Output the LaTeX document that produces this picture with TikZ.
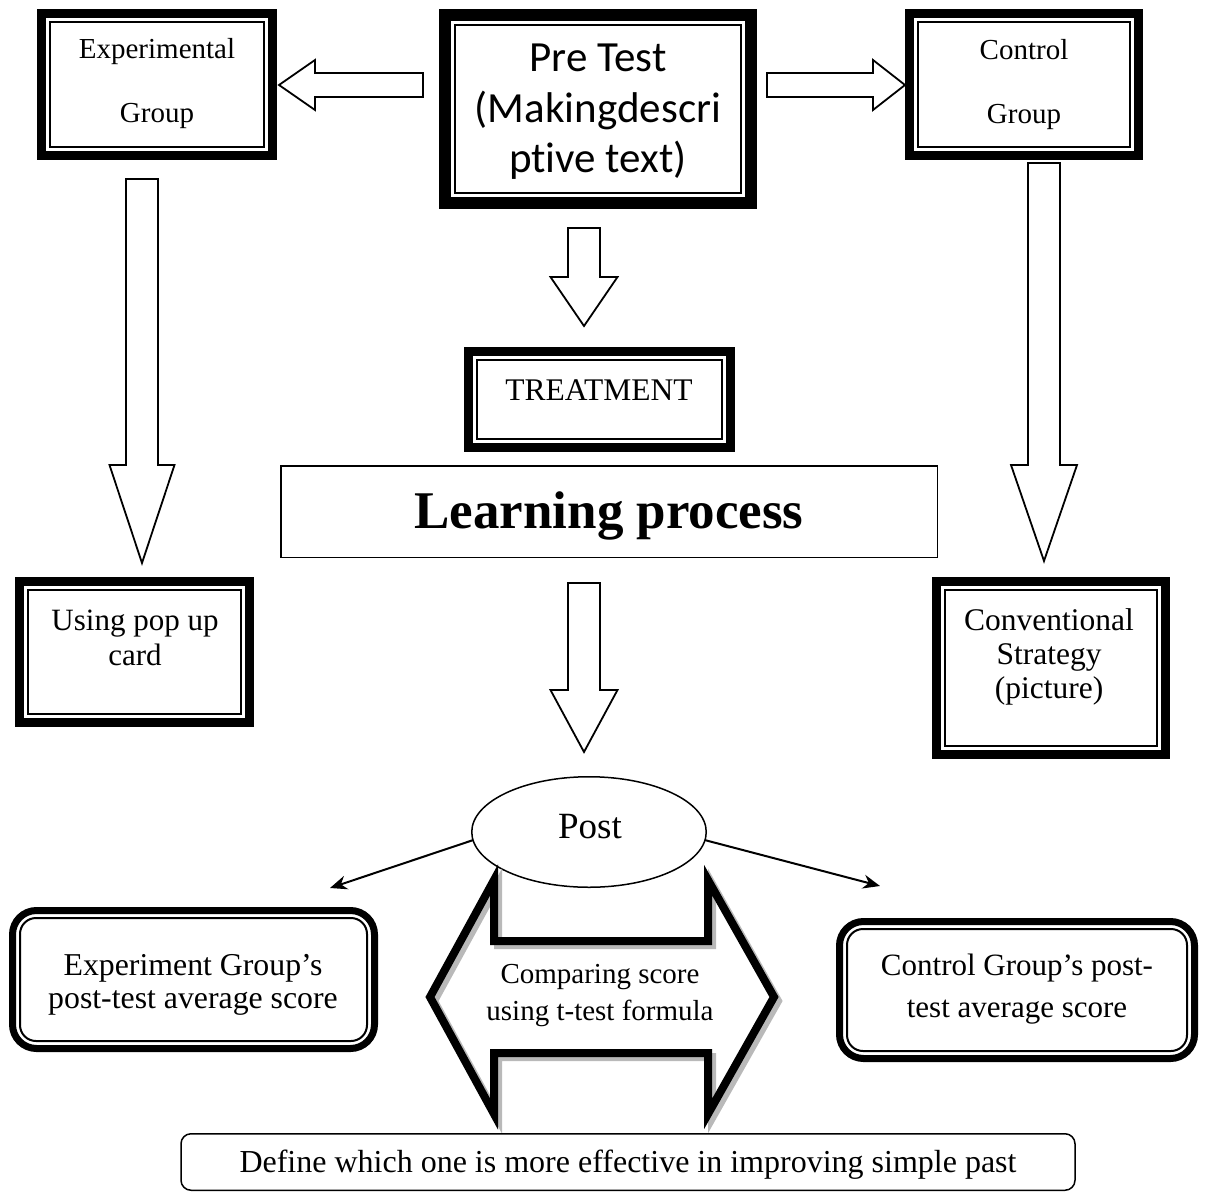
\documentclass[tikz,border=0pt]{standalone}
\usepackage{fontspec}
\setmainfont{Liberation Serif}
\newfontfamily\calibrifont[Ligatures=NoCommon]{Carlito}
\usetikzlibrary{arrows.meta,calc,shapes.geometric}
\newcommand\inframe[3]{\draw[line width=2pt] ($(#1.south west)+(#2pt,#2pt)$) rectangle ($(#1.north east)-(#2pt,#2pt)$);}
\newcommand\inrframe[3]{\draw[line width=2pt, rounded corners=#3pt] ($(#1.south west)+(#2pt,#2pt)$) rectangle ($(#1.north east)-(#2pt,#2pt)$);}
% block arrows: start, end, shaft half width, head half width, head length
\newcommand\blkdown[5]{\draw[blk] let \p1=(#1),\p2=(#2) in (\x1-#3pt,\y1) -- (\x1+#3pt,\y1) -- (\x1+#3pt,\y2+#5pt) -- (\x1+#4pt,\y2+#5pt) -- (\x2,\y2) -- (\x1-#4pt,\y2+#5pt) -- (\x1-#3pt,\y2+#5pt) -- cycle;}
\newcommand\blkleft[5]{\draw[blk] let \p1=(#1),\p2=(#2) in (\x1,\y1-#3pt) -- (\x1,\y1+#3pt) -- (\x2+#5pt,\y1+#3pt) -- (\x2+#5pt,\y1+#4pt) -- (\x2,\y2) -- (\x2+#5pt,\y1-#4pt) -- (\x2+#5pt,\y1-#3pt) -- cycle;}
\newcommand\blkright[5]{\draw[blk] let \p1=(#1),\p2=(#2) in (\x1,\y1-#3pt) -- (\x1,\y1+#3pt) -- (\x2-#5pt,\y1+#3pt) -- (\x2-#5pt,\y1+#4pt) -- (\x2,\y2) -- (\x2-#5pt,\y1-#4pt) -- (\x2-#5pt,\y1-#3pt) -- cycle;}
\begin{document}
\begin{tikzpicture}[x=1pt,y=-1pt,
  fr/.style={draw, rectangle, inner sep=0pt, outer sep=0pt},
  blk/.style={draw, line width=1.8pt, fill=white, line join=miter},
  txt/.style={inner sep=0pt, anchor=base, font=\fontsize{#1}{#1}\selectfont},
  calt/.style={inner sep=0pt, anchor=base, font=\calibrifont\fontsize{43}{43}\selectfont},
  postarrow/.style={line width=2pt, -{Stealth[length=17pt,width=14pt]}},
  dblarrow/.style={line width=8pt, line join=miter, miter limit=10}]
\useasboundingbox (0,0) rectangle (1207,1193);

% ---- top row boxes
\node[fr, line width=9pt, minimum width=231pt, minimum height=142pt] (exp) at (157,84.5) {};
\inframe{exp}{8.5}{}
\node[fr, line width=12pt, minimum width=306pt, minimum height=188pt] (pre) at (598,109) {};
\inframe{pre}{10}{}
\node[fr, line width=9pt, minimum width=229pt, minimum height=142pt] (ctl) at (1024,84.5) {};
\inframe{ctl}{8.5}{}

\node[txt=29] (expt1) at (157,59) {Experimental};
\node[txt=29] (expt2) at (157,123) {Group};
\node[txt=29] (ctlt1) at (1024,60) {Control};
\node[txt=29] (ctlt2) at (1024,124) {Group};
\node[calt] (pre1) at (598,72) {Pre Test};
\node[calt] (pre2) at (598,123) {(Makingdescri};
\node[calt] (pre3) at (598,173) {ptive text)};

% ---- treatment and learning
\node[fr, line width=9pt, minimum width=262pt, minimum height=96pt] (treat) at (599.5,399.5) {};
\inframe{treat}{8.5}{}
\node[txt=31.5] (treatt) at (599,400) {TREATMENT};
\node[fr, line width=1.5pt, minimum width=656.5pt, minimum height=91.5pt] (learn) at (609,511.5) {};
\node[txt=53, font=\bfseries\fontsize{53}{53}\selectfont] (learnt) at (609,528) {Learning process};

% ---- side boxes
\node[fr, line width=9pt, minimum width=230pt, minimum height=141pt] (use) at (134.5,652) {};
\inframe{use}{8.5}{}
\node[txt=31] (use1) at (135,630) {Using pop up};
\node[txt=31] (use2) at (135,665) {card};
\node[fr, line width=9pt, minimum width=229pt, minimum height=173pt] (conv) at (1051,668) {};
\inframe{conv}{8.5}{}
\node[txt=31.5] (conv1) at (1049,630) {Conventional};
\node[txt=31.5] (conv2) at (1049,664) {Strategy};
\node[txt=31.5] (conv3) at (1049,698) {(picture)};

% ---- block arrows
\coordinate (la0) at (423,85);  \coordinate (la1) at (279,85);
\coordinate (ra0) at (767,85);  \coordinate (ra1) at (905,85);
\coordinate (ld0) at (142,179); \coordinate (ld1) at (142,563);
\coordinate (rd0) at (1044,163); \coordinate (rd1) at (1044,561);
\coordinate (m10) at (584,228); \coordinate (m11) at (584,326);
\coordinate (m20) at (584,583); \coordinate (m21) at (584,752);
\blkleft{la0}{la1}{12}{25}{36}
\blkright{ra0}{ra1}{12}{25}{32}
\blkdown{ld0}{ld1}{16}{32.5}{98}
\blkdown{rd0}{rd1}{16}{33}{96}
\blkdown{m10}{m11}{16}{33.5}{49}
\blkdown{m20}{m21}{16}{33.5}{62}

% ---- post
\node[draw, ellipse, line width=1.5pt, minimum width=234.5pt, minimum height=110.5pt, inner sep=0pt, outer sep=0pt] (post) at (589,832) {};
\node[txt=37] (postt) at (590,838) {Post};
\coordinate (pl) at (330,888);
\coordinate (pr) at (880,886);
\draw[postarrow] (post.184) -- (pl);
\draw[postarrow] (post.356) -- (pr);

% ---- result boxes
\node[fr, line width=7pt, rounded corners=24pt, minimum width=362pt, minimum height=138pt] (eg) at (193.5,979.5) {};
\inrframe{eg}{7.5}{16}
\node[txt=31.8] (eg1) at (193,975) {Experiment Group’s};
\node[txt=31.8] (eg2) at (193,1008) {post-test average score};
\node[fr, line width=7pt, rounded corners=24pt, minimum width=355pt, minimum height=137pt] (cg) at (1017,990) {};
\inrframe{cg}{7.5}{16}
\node[txt=31] (cg1) at (1017,975) {Control Group’s post-};
\node[txt=31] (cg2) at (1017,1017) {test average score};

% ---- double arrow
\draw[dblarrow, gray!55, shift={(4,4)}] (494,880) -- (494,941) -- (708,941) -- (708,880) -- (774,997) -- (708,1114) -- (708,1053) -- (494,1053) -- (494,1114) -- (430,997) -- cycle;
\draw[dblarrow] (494,880) -- (494,941) -- (708,941) -- (708,880) -- (774,997) -- (708,1114) -- (708,1053) -- (494,1053) -- (494,1114) -- (430,997) -- cycle;
\node[txt=29] (cmp1) at (600,983) {Comparing score};
\node[txt=29] (cmp2) at (600,1020) {using t-test formula};

% ---- bottom box
\node[fr, line width=1.5pt, rounded corners=10pt, minimum width=894pt, minimum height=56.5pt] (def) at (628,1162) {};
\node[txt=32] (deft) at (628,1172) {Define which one is more effective in improving simple past};
\end{tikzpicture}
\end{document}
